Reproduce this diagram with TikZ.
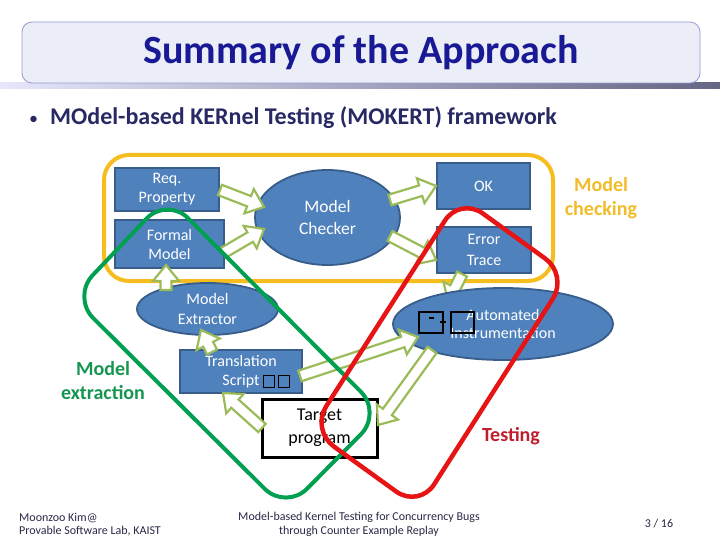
\documentclass[tikz,border=0pt]{standalone}
\usepackage{fontspec}
\setmainfont{Carlito}
\usetikzlibrary{calc,shapes.geometric}
\definecolor{boxblue}{RGB}{79,129,189}
\definecolor{boxedge}{RGB}{56,93,138}
\definecolor{arrgreen}{RGB}{155,187,89}
\definecolor{frameyellow}{RGB}{245,190,30}
\definecolor{labelgold}{RGB}{240,188,40}
\definecolor{framegreen}{RGB}{0,160,80}
\definecolor{labelgreen}{RGB}{20,150,80}
\definecolor{framered}{RGB}{230,20,20}
\definecolor{labelred}{RGB}{190,30,45}
\definecolor{titleblue}{RGB}{25,25,150}
\definecolor{bulletblue}{RGB}{40,40,100}
\definecolor{titlefill}{RGB}{235,237,247}
\definecolor{footgray}{RGB}{40,40,70}
\newcommand\blockarrow[2]{%
  \draw[arrowst] let \p1=(#1), \p2=(#2),
    \n1={atan2(\y2-\y1,\x2-\x1)}, \n2={veclen(\x2-\x1,\y2-\y1)} in
    [shift={(\p1)}, rotate=\n1]
    (0pt,-5.5pt) -- ({\n2-16pt},-5.5pt) -- ({\n2-16pt},-13pt) -- ({\n2},0pt)
    -- ({\n2-16pt},13pt) -- ({\n2-16pt},5.5pt) -- (0pt,5.5pt) -- cycle;}
\begin{document}
\begin{tikzpicture}[x=1pt,y=-1pt,
  bluebox/.style={draw=boxedge, line width=1.8pt, fill=boxblue, text=white,
    align=center, inner sep=0pt, font=\fontsize{16}{19}\selectfont},
  blueell/.style={ellipse, draw=boxedge, line width=1.8pt, fill=boxblue, text=white,
    align=center, inner sep=0pt, font=\fontsize{17.5}{22}\selectfont},
  arrowst/.style={draw=arrgreen, fill=white, line width=2.2pt, line join=miter},
  biglabel/.style={font=\fontsize{20}{24}\selectfont\bfseries, align=center},
  foot/.style={font=\fontsize{12}{13.5}\selectfont, text=footgray, inner sep=0pt},
  tofu/.style={draw=black, line width=2pt}]
\useasboundingbox (0,0) rectangle (720,540);
% header
\shade[left color=black!12!blue!10, right color=black!80!blue!60] (0,83) rectangle (720,89);
\node[draw=black!40!blue!40, line width=0.8pt, fill=titlefill, rounded corners=10pt,
  minimum width=678pt, minimum height=61pt, inner sep=0pt,
  font=\fontsize{40}{46}\selectfont\bfseries, text=titleblue] (title) at (361,52.5)
  {Summary of the Approach};
\node[anchor=west, inner sep=0pt, text=bulletblue, font=\fontsize{24}{28}\selectfont\bfseries]
  (bullet) at (29,118) {{\mdseries\fontsize{18}{20}\selectfont\textbullet}\hspace{12pt}MOdel-based KERnel Testing (MOKERT) framework};
% yellow frame
\draw[frameyellow, line width=4pt, rounded corners=25pt] (104,155) rectangle (553,281);
% nodes
\node[bluebox, minimum width=104pt, minimum height=43pt] (req) at (167,189.5) {Req.\\Property};
\node[bluebox, minimum width=109pt, minimum height=48pt] (fm) at (169.5,244) {Formal\\Model};
\node[blueell, minimum width=145pt, minimum height=95pt] (mc) at (327.5,217.5) {Model\\Checker};
\node[bluebox, minimum width=93pt, minimum height=46pt] (ok) at (483.5,186) {OK};
\node[bluebox, minimum width=94pt, minimum height=46pt, font=\fontsize{16}{21}\selectfont] (err) at (484,250) {Error\\Trace};
\node[blueell, minimum width=141pt, minimum height=52pt, font=\fontsize{16}{20}\selectfont] (me) at (207.5,309) {Model\\Extractor};
\coordinate (a10s) at (462,274);
\coordinate (a10e) at (448,302);
\blockarrow{a10s}{a10e}
\node[blueell, minimum width=220pt, minimum height=72pt, font=\fontsize{16}{18.5}\selectfont] (ai) at (503,324) {Automated\\Instrumentation};
\node[bluebox, minimum width=122pt, minimum height=43pt] (ts) at (241,371.5) {Translation\\Script\hspace{40pt}};
\node[draw=black, line width=3pt, fill=white, minimum width=115pt, minimum height=58pt,
  inner sep=0pt, align=center, font=\fontsize{18}{23}\selectfont] (tp) at (319.5,428) {Target\\program};
% block arrows (connectors)
\coordinate (a1s) at (220,190); \coordinate (a1e) at (264,207);
\coordinate (a2s) at (223,253); \coordinate (a2e) at (264,229);
\coordinate (a3s) at (390,200); \coordinate (a3e) at (436,186);
\coordinate (a4s) at (390,236); \coordinate (a4e) at (436,260);
\coordinate (a5s) at (166,290); \coordinate (a5e) at (166,265);
\coordinate (a6s) at (212,352); \coordinate (a6e) at (201,330);
\coordinate (a7s) at (262,428); \coordinate (a7e) at (223,393);
\coordinate (a8s) at (300,376); \coordinate (a8e) at (418,337);
\coordinate (a9s) at (432,350); \coordinate (a9e) at (378,425);
\blockarrow{a1s}{a1e}
\blockarrow{a2s}{a2e}
\blockarrow{a3s}{a3e}
\blockarrow{a4s}{a4e}
\blockarrow{a5s}{a5e}
\blockarrow{a6s}{a6e}
\blockarrow{a7s}{a7e}
\blockarrow{a8s}{a8e}
\blockarrow{a9s}{a9e}
% glyph boxes
\draw[tofu] (419,312) rectangle (443,333);
\draw[tofu] (451,312) rectangle (474,333);
\draw[black, line width=1.5pt] (429,318) -- (434,318) (440,322) -- (446,322);
\draw[black, line width=1pt] (263,375) rectangle (274,387);
\draw[black, line width=1pt] (278,375) rectangle (289,387);
% region outlines
\draw[framegreen, line width=4pt, rounded corners=30pt]
  (167,197) -- (382,413) -- (286,510) -- (72,297) -- cycle;
\draw[framered, line width=4.5pt, rounded corners=28pt]
  (460,197) -- (568,275) -- (419,508) -- (311,430) -- cycle;
% region labels
\node[biglabel, text=labelgold] (lmc) at (601,198.5) {Model\\checking};
\node[biglabel, text=labelgreen] (lme) at (103,381) {Model\\extraction};
\node[biglabel, text=labelred] (lt) at (511,436) {Testing};
% footer
\node[foot, anchor=west, align=left] (f1) at (19,524.5) {Moonzoo Kim@\\Provable Software Lab, KAIST};
\node[foot, align=center] (f2) at (359,524.5) {Model-based Kernel Testing for Concurrency Bugs\\through Counter Example Replay};
\node[foot] (f3) at (659,524) {3 / 16};
\end{tikzpicture}
\end{document}
